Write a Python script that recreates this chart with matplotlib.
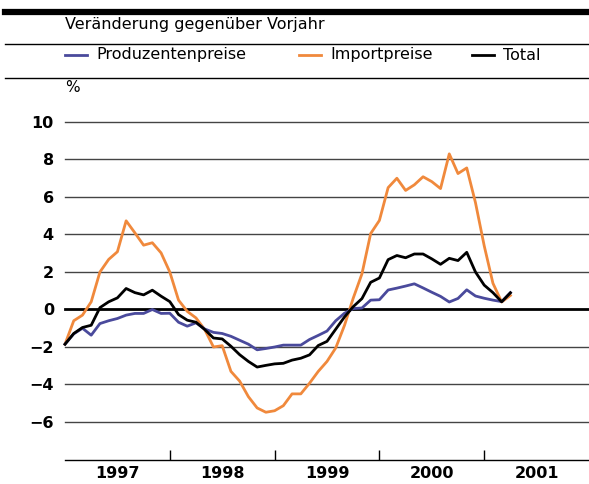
import matplotlib
matplotlib.use('Agg')
import matplotlib.pyplot as plt
from matplotlib.lines import Line2D
import numpy as np

# monthly values, Jan 1997 - Apr 2001 (% change vs previous year)
produzentenpreise = [-1.85, -1.3, -1.0, -1.37, -0.75, -0.6, -0.48, -0.3, -0.21, -0.21, 0.0, -0.21,
                     -0.2, -0.68, -0.89, -0.71, -1.04, -1.22, -1.28, -1.43, -1.64, -1.85, -2.15, -2.08,
                     -2.0, -1.9, -1.9, -1.9, -1.6, -1.38, -1.15, -0.6, -0.2, 0.05, 0.08, 0.5,
                     0.52, 1.04, 1.14, 1.25, 1.37, 1.15, 0.92, 0.7, 0.4, 0.59, 1.05, 0.72,
                     0.6, 0.5, 0.42, 0.9]
importpreise = [-1.85, -0.6, -0.3, 0.41, 2.0, 2.67, 3.08, 4.73, 4.09, 3.43, 3.56, 3.02,
                2.0, 0.5, -0.1, -0.45, -1.07, -2.0, -1.93, -3.3, -3.82, -4.65, -5.25, -5.48,
                -5.4, -5.13, -4.5, -4.5, -3.93, -3.3, -2.77, -2.05, -0.85, 0.6, 1.9, 4.05,
                4.75, 6.5, 7.0, 6.35, 6.65, 7.08, 6.82, 6.45, 8.3, 7.25, 7.55, 5.7,
                3.4, 1.4, 0.4, 0.75]
total = [-1.85, -1.28, -0.96, -0.84, 0.1, 0.41, 0.62, 1.12, 0.9, 0.78, 1.03, 0.71,
         0.42, -0.27, -0.57, -0.68, -1.07, -1.52, -1.57, -1.96, -2.41, -2.77, -3.07, -2.98,
         -2.9, -2.87, -2.7, -2.6, -2.42, -1.92, -1.7, -1.05, -0.4, 0.15, 0.58, 1.45,
         1.68, 2.66, 2.88, 2.76, 2.96, 2.96, 2.7, 2.41, 2.73, 2.61, 3.05, 2.0,
         1.3, 0.9, 0.41, 0.89]
years = [1997, 1998, 1999, 2000, 2001]
yticks = [-6, -4, -2, 0, 2, 4, 6, 8, 10]

blue = '#4a4a9c'
orange = '#f0893c'

x = 1997 + np.arange(len(total)) / 12.0

fig = plt.figure(figsize=(5.89, 4.84), dpi=100)
ax = fig.add_axes([65/589, 1 - 459.5/484, 1 - 65/589, (459.5 - 122)/484])

for v in yticks:
    if v == 0:
        continue
    ax.axhline(v, color='#444444', lw=1.0, zorder=1)
ax.axhline(0, color='black', lw=2.0, zorder=2)

ax.plot(x, importpreise, color=orange, lw=2.0, zorder=3)
ax.plot(x, produzentenpreise, color=blue, lw=2.0, zorder=4)
ax.plot(x, total, color='black', lw=2.0, zorder=5)

ax.set_xlim(1997, 2002)
ax.set_ylim(-8, 10)
for s in ['top', 'right', 'left']:
    ax.spines[s].set_visible(False)
ax.spines['bottom'].set_linewidth(1.0)

ax.set_yticks(yticks)
ax.set_yticklabels([str(v).replace('-', '\u2212') for v in yticks],
                   fontsize=11.5, fontweight='bold')
ax.tick_params(axis='y', length=0, pad=8)

ax.set_xticks(years[1:])
ax.set_xticklabels([])
ax.tick_params(axis='x', which='major', direction='in', length=7, width=1)
ax.set_xticks([y + 0.5 for y in years], minor=True)
ax.set_xticklabels([str(y) for y in years], minor=True, fontsize=11.5, fontweight='bold')
ax.tick_params(axis='x', which='minor', length=0, pad=5)

for line in ax.get_lines():
    line.set_clip_on(False)

# header
def hline(ypix, lw):
    fig.add_artist(Line2D([5/589, 1], [1 - ypix/484] * 2, color='black', lw=lw,
                          transform=fig.transFigure))

hline(12, 4.5)
hline(44, 1.0)
hline(78, 1.0)

fig.text(65/589, 1 - 25/484, 'Veränderung gegenüber Vorjahr', fontsize=11.5,
         va='center', ha='left')

leg = [(65, blue, 'Produzentenpreise'), (299, orange, 'Importpreise'), (472, 'black', 'Total')]
for xp, c, lab in leg:
    fig.add_artist(Line2D([xp/589, (xp + 22)/589], [1 - 55/484] * 2, color=c, lw=2.0,
                          transform=fig.transFigure))
    fig.text((xp + 31)/589, 1 - 55/484, lab, fontsize=11.5, va='center', ha='left')

fig.text(65/589, 1 - 87/484, '%', fontsize=11, va='center', ha='left')

fig.savefig('out.png', dpi=100)
